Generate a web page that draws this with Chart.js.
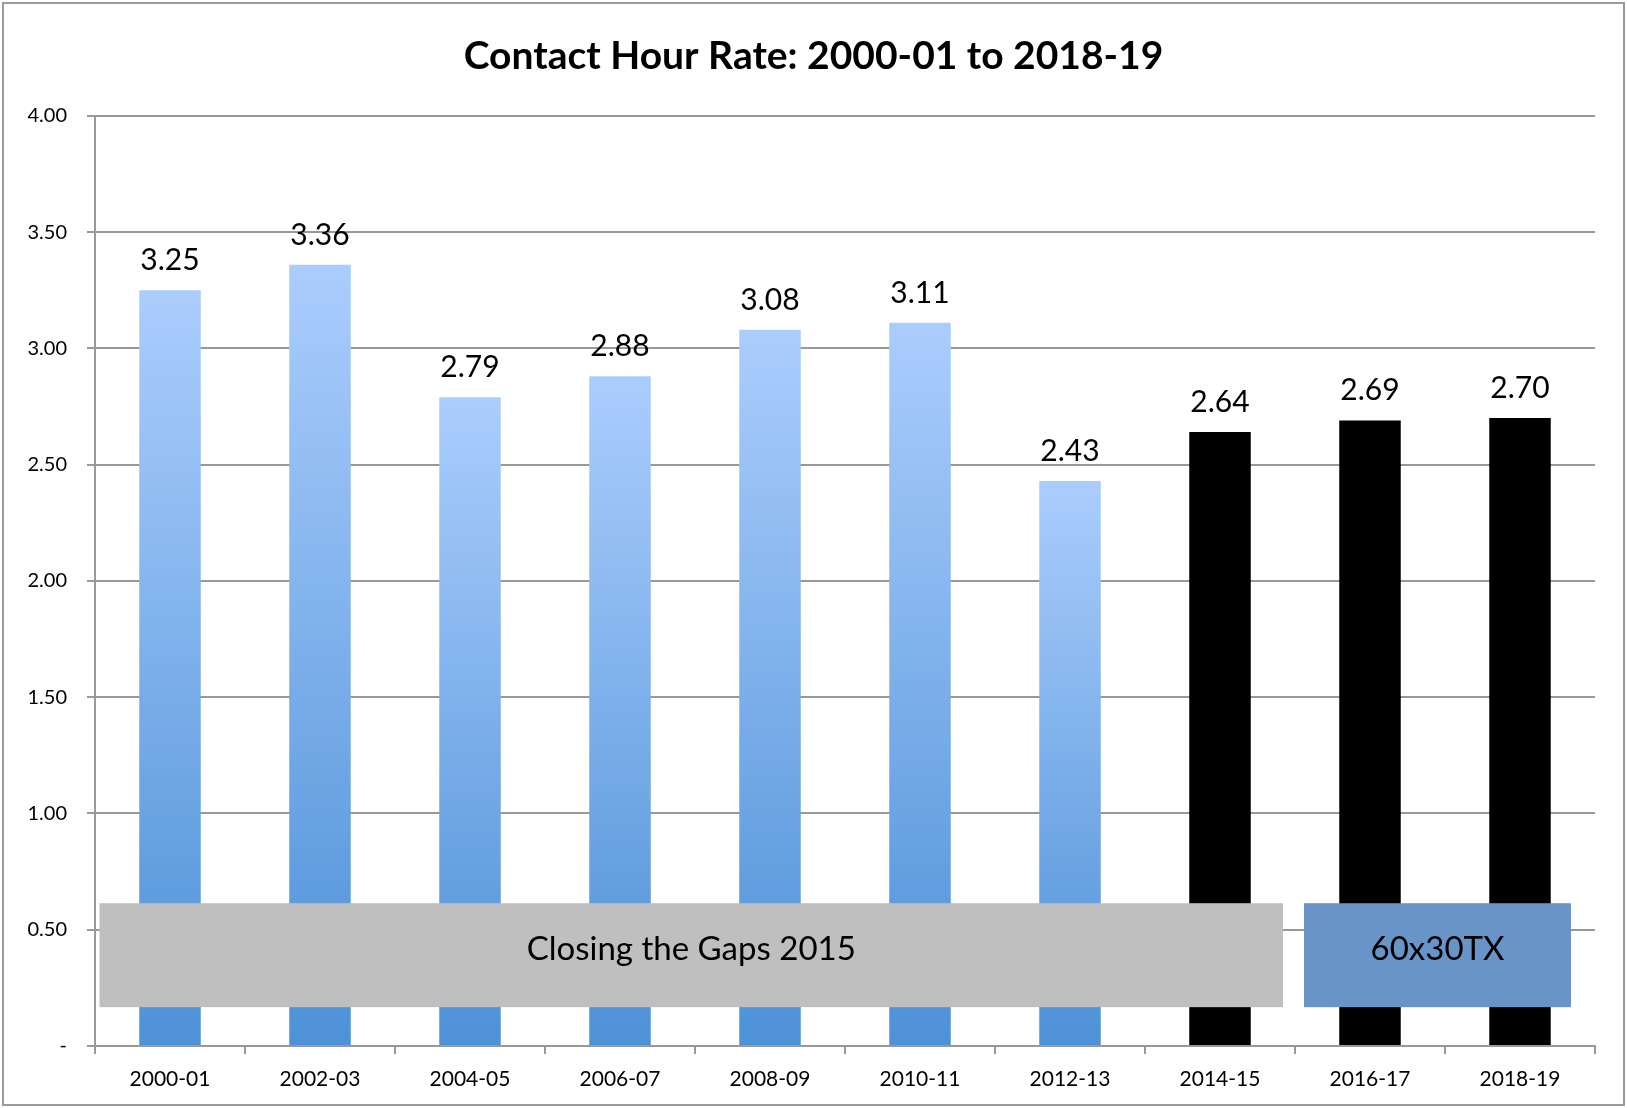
<!DOCTYPE html>
<html>
<head>
<meta charset="utf-8">
<script src="https://cdn.jsdelivr.net/npm/chart.js@4/dist/chart.umd.min.js"></script>
<style>
  body { margin: 0; background: #fff; }
  #wrap { width: 1627px; height: 1108px; position: relative; }
</style>
</head>
<body>
<div id="wrap"><canvas id="rateChart"></canvas></div>
<script>
// Academic years on the x axis
const years = ["2000-01", "2002-03", "2004-05", "2006-07", "2008-09",
               "2010-11", "2012-13", "2014-15", "2016-17", "2018-19"];
// Contact hour rate for each year
const rates = [3.25, 3.36, 2.79, 2.88, 3.08, 3.11, 2.43, 2.64, 2.69, 2.70];
// y axis ticks
const yTicks = [0, 0.5, 1, 1.5, 2, 2.5, 3, 3.5, 4];

// Plan periods shown as boxes across the bottom (category index span, value span)
const periodNames = ["Closing the Gaps 2015", "60x30TX"];
const periodFrom = [-0.47, 7.56];
const periodTo = [7.42, 9.34];
const periodLow = 0.167;
const periodHigh = 0.614;

const FONT = 'Lato, "Open Sans", sans-serif';
const firstNewPlan = 7; // bars from 2014-15 on are drawn black

// blue gradient per bar, light at top
function barFill(c) {
  if (c.dataIndex >= firstNewPlan) return '#000000';
  const chart = c.chart;
  if (!chart.chartArea) return '#7fb0ea';
  const y = chart.scales.y;
  const top = y.getPixelForValue(c.raw);
  const bottom = y.getPixelForValue(0);
  const g = chart.ctx.createLinearGradient(0, top, 0, bottom);
  g.addColorStop(0, '#abcdfd');
  g.addColorStop(1, '#4d91d7');
  return g;
}

// white page + grey frame, title centred on the whole canvas
const framePlugin = {
  id: 'frame',
  afterLayout(chart) {
    const t = chart.titleBlock;
    if (t) { t.left = 0; t.right = chart.width; t.width = chart.width; }
  },
  beforeDraw(chart) {
    const ctx = chart.ctx;
    ctx.save();
    ctx.fillStyle = '#fff';
    ctx.fillRect(0, 0, chart.width, chart.height);
    ctx.strokeStyle = '#9a9a9a';
    ctx.lineWidth = 2;
    ctx.strokeRect(3, 3, chart.width - 6, chart.height - 6);
    ctx.restore();
  }
};

// value labels over bars and the period boxes
const labelPlugin = {
  id: 'labels',
  afterDatasetsDraw(chart) {
    const ctx = chart.ctx;
    const x = chart.scales.x, y = chart.scales.y;
    ctx.save();
    ctx.fillStyle = '#000';
    ctx.font = '30px ' + FONT;
    ctx.textAlign = 'center';
    ctx.textBaseline = 'alphabetic';
    chart.getDatasetMeta(0).data.forEach((bar, i) => {
      ctx.fillText(rates[i].toFixed(2), bar.x, bar.y - 20);
    });

    const step = x.getPixelForValue(1) - x.getPixelForValue(0);
    const boxColors = ['#bfbfbf', '#6894c8'];
    periodNames.forEach((name, i) => {
      const left = x.getPixelForValue(0) + periodFrom[i] * step;
      const right = x.getPixelForValue(0) + periodTo[i] * step;
      const top = y.getPixelForValue(periodHigh);
      const bottom = y.getPixelForValue(periodLow);
      ctx.fillStyle = boxColors[i];
      ctx.fillRect(left, top, right - left, bottom - top);
      ctx.fillStyle = '#000';
      ctx.font = '33px ' + FONT;
      ctx.textBaseline = 'middle';
      ctx.fillText(name, (left + right) / 2, (top + bottom) / 2 - 6);
    });
    ctx.restore();
  }
};

new Chart(document.getElementById('rateChart').getContext('2d'), {
  type: 'bar',
  data: {
    labels: years,
    datasets: [{
      data: rates,
      backgroundColor: barFill,
      barPercentage: 0.41,
      categoryPercentage: 1,
    }],
  },
  options: {
    responsive: true,
    maintainAspectRatio: false,
    animation: false,
    layout: { padding: { top: 10, left: 0, right: 32, bottom: 0 } },
    plugins: {
      legend: { display: false },
      tooltip: { enabled: false },
      title: {
        display: true,
        text: 'Contact Hour Rate: 2000-01 to 2018-19',
        color: '#000',
        font: { family: FONT, size: 39, weight: 'bold' },
        padding: { top: 23, bottom: 36 },
      },
    },
    scales: {
      x: {
        afterFit(s) { s.height = 62; },
        grid: { drawOnChartArea: false, drawTicks: true, tickLength: 8, color: '#999', lineWidth: 2, offset: true },
        border: { color: '#999', width: 2 },
        ticks: { color: '#000', padding: 13, font: { family: FONT, size: 21 } },
      },
      y: {
        min: 0,
        max: 4,
        afterFit(s) { s.width = 95; },
        afterBuildTicks(s) { s.ticks = yTicks.map(v => ({ value: v })); },
        grid: { color: '#999', lineWidth: 2, tickLength: 8 },
        border: { color: '#999', width: 2 },
        ticks: {
          color: '#000',
          padding: 20,
          font: { family: FONT, size: 20 },
          callback: v => v === 0 ? '-' : v.toFixed(2),
        },
      },
    },
  },
  plugins: [framePlugin, labelPlugin],
});
</script>
</body>
</html>
